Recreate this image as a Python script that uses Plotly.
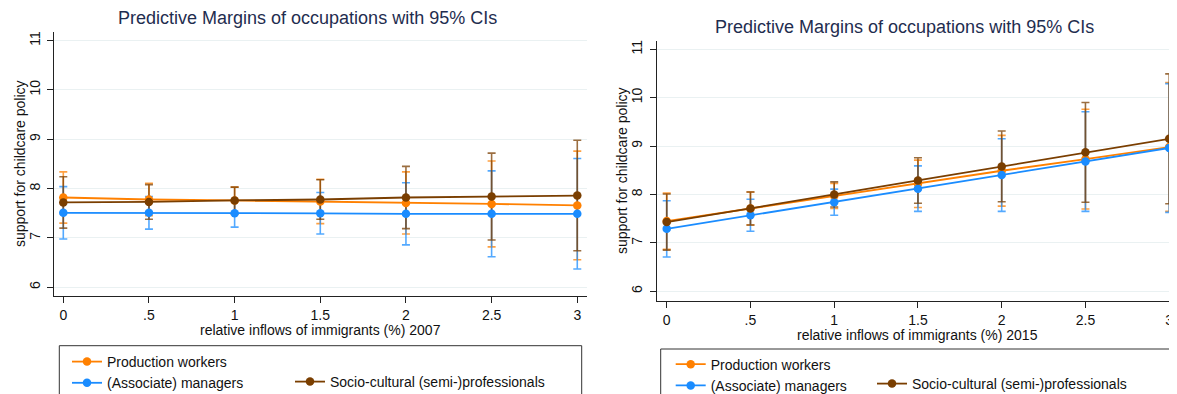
import plotly.graph_objects as go

W, H = 1177, 394
OFF = 8  # page body margin in the browser

x_vals = [0, 0.5, 1, 1.5, 2, 2.5, 3]
x_ticktext = ["0", ".5", "1", "1.5", "2", "2.5", "3"]
y_ticks = [6, 7, 8, 9, 10, 11]

series_names = ["Production workers", "(Associate) managers", "Socio-cultural (semi-)professionals"]

# 2007 panel: margins and half-width of 95% CI
prod_2007 = [7.82, 7.78, 7.76, 7.74, 7.71, 7.69, 7.66]
prod_2007_ci = [0.52, 0.33, 0.27, 0.45, 0.63, 0.87, 1.10]
mgr_2007 = [7.51, 7.51, 7.50, 7.50, 7.49, 7.49, 7.49]
mgr_2007_ci = [0.53, 0.33, 0.28, 0.42, 0.63, 0.87, 1.12]
soc_2007 = [7.72, 7.73, 7.76, 7.78, 7.82, 7.84, 7.86]
soc_2007_ci = [0.52, 0.35, 0.27, 0.40, 0.63, 0.88, 1.12]

# 2015 panel
prod_2015 = [7.45, 7.71, 7.97, 8.22, 8.49, 8.73, 8.98]
prod_2015_ci = [0.58, 0.34, 0.26, 0.49, 0.73, 1.03, 1.33]
mgr_2015 = [7.29, 7.57, 7.84, 8.12, 8.40, 8.68, 8.96]
mgr_2015_ci = [0.58, 0.33, 0.27, 0.47, 0.75, 1.03, 1.33]
soc_2015 = [7.43, 7.71, 8.00, 8.29, 8.58, 8.87, 9.15]
soc_2015_ci = [0.58, 0.34, 0.26, 0.47, 0.73, 1.03, 1.34]

title_text = "Predictive Margins of occupations with 95% CIs"
ytitle_text = "support for childcare policy"
xtitle_2007 = "relative inflows of immigrants (%) 2007"
xtitle_2015 = "relative inflows of immigrants (%) 2015"

colors = ["#FF8000", "#1A8CFF", "#7A3E00"]
ci_colors = ["rgba(255,128,0,0.75)", "rgba(26,140,255,0.75)", "rgba(122,62,0,0.75)"]

FONT = "Liberation Sans, Arial, Helvetica, sans-serif"

fig = go.Figure()

panels = [
    ("x", "y", [prod_2007, mgr_2007, soc_2007], [prod_2007_ci, mgr_2007_ci, soc_2007_ci],
     ["legend", "legend", "legend2"]),
    ("x2", "y2", [prod_2015, mgr_2015, soc_2015], [prod_2015_ci, mgr_2015_ci, soc_2015_ci],
     ["legend3", "legend3", "legend4"]),
]

for pi, (xa, ya, vals, cis, legs) in enumerate(panels):
    for i in range(3):
        fig.add_trace(go.Scatter(
            x=x_vals, y=vals[i], xaxis=xa, yaxis=ya, mode="markers",
            marker=dict(size=1, opacity=0, color=colors[i]),
            error_y=dict(type="data", array=cis[i], visible=True,
                         color=ci_colors[i], thickness=1.6, width=4),
            showlegend=False, hoverinfo="skip"))
    for i in range(3):
        fig.add_trace(go.Scatter(
            x=x_vals, y=vals[i], xaxis=xa, yaxis=ya, mode="lines+markers",
            name=series_names[i],
            line=dict(color=colors[i], width=1.8),
            marker=dict(color=colors[i], size=8.5),
            showlegend=True, legend=legs[i]))


def px_x(p):
    return (p - OFF) / W


def px_y(p):
    return 1 - (p - OFF) / H


axis_common = dict(
    showline=True, linecolor="#222222", linewidth=1,
    ticks="outside", ticklen=6, tickcolor="#222222", tickwidth=1,
    tickfont=dict(family=FONT, size=14, color="#111111"),
    zeroline=False, mirror=False,
)

leg_common = dict(xanchor="left", yanchor="top", bgcolor="rgba(0,0,0,0)", borderwidth=0,
                  font=dict(family=FONT, size=14, color="#111111"),
                  tracegroupgap=0, itemclick=False)

fig.update_layout(
    width=W, height=H, autosize=False,
    margin=dict(l=0, r=0, t=0, b=0, autoexpand=False),
    paper_bgcolor="white", plot_bgcolor="white",
    font=dict(family=FONT, size=14, color="#111111"),
    xaxis=dict(domain=[px_x(54.3), px_x(586.7)], range=[-0.0525, 3.055],
               tickvals=x_vals, ticktext=x_ticktext, showgrid=False,
               anchor="y", ticklabelstandoff=0, **axis_common),
    yaxis=dict(domain=[px_y(296), px_y(31.7)], range=[5.824, 11.18],
               tickvals=y_ticks, tickangle=-90, showgrid=True,
               gridcolor="#EAF1F2", gridwidth=1, anchor="x",
               ticklabelstandoff=2, **axis_common),
    xaxis2=dict(domain=[px_x(656.7), px_x(1177.5)], range=[-0.0598, 3.0496],
                tickvals=x_vals, ticktext=x_ticktext, showgrid=False,
                anchor="y2", ticklabelstandoff=0, **axis_common),
    yaxis2=dict(domain=[px_y(300.7), px_y(41)], range=[5.806, 11.17],
                tickvals=y_ticks, tickangle=-90, showgrid=True,
                gridcolor="#EAF1F2", gridwidth=1, anchor="x2",
                ticklabelstandoff=2, **axis_common),
    legend=dict(x=px_x(67), y=px_y(346), **leg_common),
    legend2=dict(x=px_x(290), y=px_y(366), **leg_common),
    legend3=dict(x=px_x(670.7), y=px_y(348.6), **leg_common),
    legend4=dict(x=px_x(872), y=px_y(368), **leg_common),
    showlegend=True,
)

# legend frames
fig.add_shape(type="rect", xref="paper", yref="paper",
              x0=px_x(59.3), x1=px_x(581.7), y0=-0.1, y1=px_y(345.7),
              line=dict(color="#333333", width=1), fillcolor="rgba(0,0,0,0)")
fig.add_shape(type="rect", xref="paper", yref="paper",
              x0=px_x(660.7), x1=1.05, y0=-0.1, y1=px_y(349),
              line=dict(color="#333333", width=1), fillcolor="rgba(0,0,0,0)")

title_font = dict(family=FONT, size=18, color="#1F2D4F")
axt_font = dict(family=FONT, size=14, color="#111111")

annotations = [
    dict(text=title_text, x=px_x(307), y=px_y(18.3), xref="paper", yref="paper",
         showarrow=False, font=title_font, xanchor="center", yanchor="middle"),
    dict(text=title_text, x=px_x(904), y=px_y(26.7), xref="paper", yref="paper",
         showarrow=False, font=title_font, xanchor="center", yanchor="middle"),
    dict(text=ytitle_text, x=px_x(20), y=px_y(164), xref="paper", yref="paper",
         showarrow=False, font=axt_font, textangle=-90, xanchor="center", yanchor="middle"),
    dict(text=ytitle_text, x=px_x(622), y=px_y(171), xref="paper", yref="paper",
         showarrow=False, font=axt_font, textangle=-90, xanchor="center", yanchor="middle"),
    dict(text=xtitle_2007, x=px_x(320.5), y=px_y(330), xref="paper", yref="paper",
         showarrow=False, font=axt_font, xanchor="center", yanchor="middle"),
    dict(text=xtitle_2015, x=px_x(917), y=px_y(335), xref="paper", yref="paper",
         showarrow=False, font=axt_font, xanchor="center", yanchor="middle"),
]
fig.update_layout(annotations=annotations)

fig.write_html("out.html")
